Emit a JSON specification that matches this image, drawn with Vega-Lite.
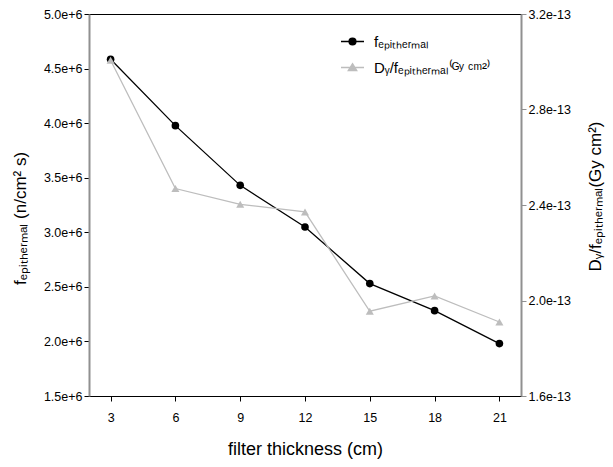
{
  "$schema": "https://vega.github.io/schema/vega-lite/v6.json",
  "width": 432,
  "height": 382,
  "autosize": {"type": "none"},
  "padding": {"left": 89, "top": 14, "right": 92, "bottom": 71},
  "background": "white",
  "config": {
    "font": "Liberation Sans, Arial, sans-serif",
    "view": {"stroke": "black", "strokeWidth": 1},
    "axis": {"grid": false, "labelFontSize": 12.5, "labelColor": "black", "tickSize": 5, "titleFontWeight": "normal", "titleColor": "black"}
  },
  "datasets": {
    "flux": [
      {"t": 3, "v": 4585000},
      {"t": 6, "v": 3977000},
      {"t": 9, "v": 3430000},
      {"t": 12, "v": 3048000},
      {"t": 15, "v": 2530000},
      {"t": 18, "v": 2282000},
      {"t": 21, "v": 1980000}
    ],
    "dose": [
      {"t": 3, "v": 3.006e-13},
      {"t": 6, "v": 2.469e-13},
      {"t": 9, "v": 2.403e-13},
      {"t": 12, "v": 2.371e-13},
      {"t": 15, "v": 1.955e-13},
      {"t": 18, "v": 2.019e-13},
      {"t": 21, "v": 1.91e-13}
    ],
    "series": [
      {"t": 3, "s": "fₑₚᵢₜₕₑᵣₘₐₗ"},
      {"t": 3, "s": "Dᵧ/fₑₚᵢₜₕₑᵣₘₐₗ⁽ᴳʸ ᶜᵐ²⁾"}
    ]
  },
  "encoding": {
    "x": {
      "field": "t", "type": "quantitative",
      "scale": {"domain": [2, 22], "nice": false, "zero": false},
      "axis": {"values": [3, 6, 9, 12, 15, 18, 21], "title": "filter thickness (cm)", "titleFontSize": 18, "titlePadding": 17, "labelPadding": 10, "domainColor": "black", "tickColor": "black"}
    }
  },
  "layer": [
    {
      "data": {"name": "flux"},
      "encoding": {
        "y": {
          "field": "v", "type": "quantitative",
          "scale": {"domain": [1500000, 5000000], "nice": false, "zero": false},
          "axis": {"orient": "left", "values": [1500000, 2000000, 2500000, 3000000, 3500000, 4000000, 4500000, 5000000], "format": ".1e", "title": "fₑₚᵢₜₕₑᵣₘₐₗ (n/cm² s)", "titleFontSize": 17, "titleY": 204, "titlePadding": 14, "domainColor": "#909090", "domainWidth": 2, "tickColor": "black"}
        }
      },
      "layer": [
        {"mark": {"type": "line", "color": "black", "strokeWidth": 1.3}},
        {"mark": {"type": "point", "shape": "circle", "filled": true, "size": 58, "opacity": 1, "color": "black"}}
      ]
    },
    {
      "data": {"name": "dose"},
      "encoding": {
        "y": {
          "field": "v", "type": "quantitative",
          "scale": {"domain": [1.6e-13, 3.2e-13], "nice": false, "zero": false},
          "axis": {"orient": "right", "values": [1.6e-13, 2.0e-13, 2.4e-13, 2.8e-13, 3.2e-13], "format": ".1e", "title": "Dᵧ/fₑₚᵢₜₕₑᵣₘₐₗ(Gy cm²)", "titleFontSize": 17, "titleY": 182, "titleAngle": -90, "titlePadding": 34, "domainColor": "#909090", "domainWidth": 2, "tickColor": "#909090"}
        }
      },
      "layer": [
        {"mark": {"type": "line", "color": "#bdbdbd", "strokeWidth": 1.3}},
        {"mark": {"type": "point", "shape": "triangle-up", "filled": true, "size": 65, "opacity": 1, "color": "#bdbdbd"}}
      ]
    },
    {
      "data": {"name": "series"},
      "transform": [{"filter": "false"}],
      "mark": {"type": "point", "filled": true, "strokeWidth": 1.3, "opacity": 1},
      "encoding": {
        "shape": {
          "field": "s", "type": "nominal",
          "scale": {"domain": ["fₑₚᵢₜₕₑᵣₘₐₗ", "Dᵧ/fₑₚᵢₜₕₑᵣₘₐₗ⁽ᴳʸ ᶜᵐ²⁾"], "range": ["M-1,0L1,0M-0.3,0A0.3,0.3,0,1,1,0.3,0A0.3,0.3,0,1,1,-0.3,0Z", "M-1,0L1,0M0,-0.33L0.37,0.27L-0.37,0.27Z"]},
          "legend": {"orient": "none", "legendX": 251, "legendY": 15, "title": null, "padding": 0, "symbolSize": 529, "labelFontSize": 15, "labelOffset": 9, "rowPadding": 5, "symbolStrokeWidth": 1.3}
        },
        "fill": {
          "field": "s", "type": "nominal",
          "scale": {"domain": ["fₑₚᵢₜₕₑᵣₘₐₗ", "Dᵧ/fₑₚᵢₜₕₑᵣₘₐₗ⁽ᴳʸ ᶜᵐ²⁾"], "range": ["black", "#bdbdbd"]},
          "legend": {"orient": "none", "legendX": 251, "legendY": 15, "title": null, "padding": 0, "symbolSize": 529, "labelFontSize": 15, "labelOffset": 9, "rowPadding": 5, "symbolStrokeWidth": 1.3}
        },
        "stroke": {
          "field": "s", "type": "nominal",
          "scale": {"domain": ["fₑₚᵢₜₕₑᵣₘₐₗ", "Dᵧ/fₑₚᵢₜₕₑᵣₘₐₗ⁽ᴳʸ ᶜᵐ²⁾"], "range": ["black", "#bdbdbd"]},
          "legend": {"orient": "none", "legendX": 251, "legendY": 15, "title": null, "padding": 0, "symbolSize": 529, "labelFontSize": 15, "labelOffset": 9, "rowPadding": 5, "symbolStrokeWidth": 1.3}
        }
      }
    }
  ],
  "resolve": {"scale": {"y": "independent"}}
}
